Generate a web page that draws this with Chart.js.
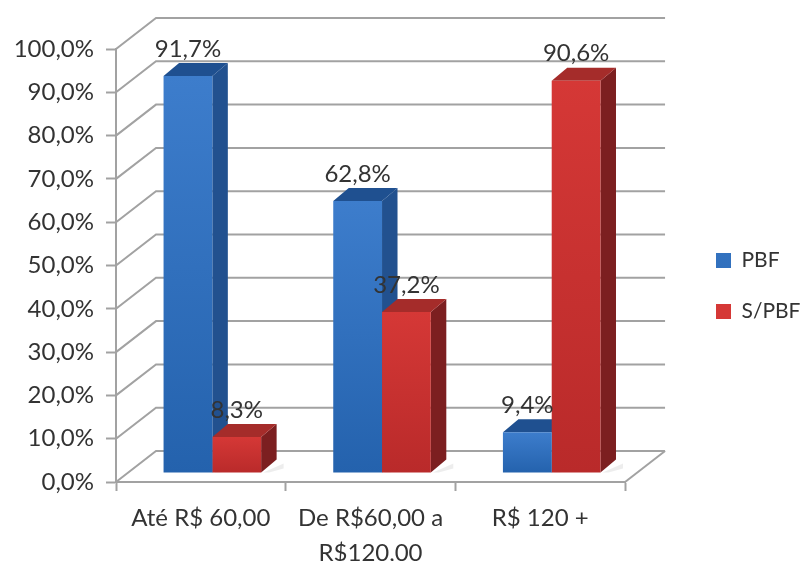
<!DOCTYPE html>
<html>
<head>
<meta charset="utf-8">
<style>
  html, body { margin: 0; padding: 0; background: #fff; }
  #chart { display: block; }
</style>
<script src="https://cdn.jsdelivr.net/npm/chart.js@4/dist/chart.umd.min.js"></script>
</head>
<body>
<canvas id="chart" width="801" height="561"></canvas>
<script>
const categories = ['Até R$ 60,00', ['De R$60,00 a', 'R$120,00'], 'R$ 120 +'];
const seriesPBF = [91.7, 62.8, 9.4];
const seriesSemPBF = [8.3, 37.2, 90.6];
const yTickLabels = ['0,0%', '10,0%', '20,0%', '30,0%', '40,0%', '50,0%', '60,0%', '70,0%', '80,0%', '90,0%', '100,0%'];

const FONT = 'Lato, Carlito, "Open Sans", sans-serif';
const TEXT = '#333333';
const LINE = '#a2a2a2';

// Depth of the floor, how far the bars sit into it, and the depth of a bar
const wall = { dx: 40, dy: -31 };
const barShift = { dx: 11.5, dy: -9 };
const barDepth = { dx: 15.5, dy: -13 };

const palette = [
    { solid: '#2b6cb9', top: '#3d7dcc', bottom: '#2462ad', side: '#22518f', lid: '#1f5090' },
    { solid: '#b92c30', top: '#d53836', bottom: '#b92a2a', side: '#7c1f20', lid: '#a52c2a' }
];

function barFill(ctx, i) {
    const colors = palette[i];
    if (ctx.type !== 'data') return colors.solid;
    const y = ctx.chart.scales.y;
    const y0 = y.getPixelForValue(ctx.raw);
    const y1 = y.getPixelForValue(0);
    // scale has no pixels yet on the very first resolve
    if (!isFinite(y0) || !isFinite(y1)) return colors.solid;
    const g = ctx.chart.ctx.createLinearGradient(0, y0, 0, y1);
    g.addColorStop(0, colors.top);
    g.addColorStop(1, colors.bottom);
    return g;
}

function quad(c, pts, fill) {
    c.beginPath();
    pts.forEach((p, i) => i ? c.lineTo(p[0], p[1]) : c.moveTo(p[0], p[1]));
    c.closePath();
    c.fillStyle = fill;
    c.fill();
}

const scene3d = {
    id: 'scene3d',
    afterLayout(chart) {
        // Legend sits at the far right, away from the plot
        const legend = chart.legend;
        legend.left = 686;
        legend.right = 801;
        legend.top = 11;
    },
    beforeDatasetsDraw(chart) {
        const c = chart.ctx;
        const { left, right, bottom } = chart.chartArea;
        const y = chart.scales.y;

        // back wall lines plus the diagonals running along the left wall
        c.save();
        c.strokeStyle = LINE;
        c.lineWidth = 2;
        y.ticks.forEach(t => {
            const py = y.getPixelForValue(t.value);
            c.beginPath();
            c.moveTo(left, py);
            c.lineTo(left + wall.dx, py + wall.dy);
            c.lineTo(right + wall.dx, py + wall.dy);
            c.stroke();
        });
        c.beginPath();
        c.moveTo(right, bottom);
        c.lineTo(right + wall.dx, bottom + wall.dy);
        c.stroke();
        c.restore();

        // shifted onto the floor; side and lid first so the fronts cover them
        c.save();
        c.translate(barShift.dx, barShift.dy);
        chart.data.datasets.forEach((ds, i) => {
            chart.getDatasetMeta(i).data.forEach(bar => {
                const x0 = bar.x - bar.width / 2;
                const x1 = bar.x + bar.width / 2;
                const d = barDepth;
                // soft shadow on the floor beside the bar
                quad(c, [[x1 + 2, bar.base], [x1 + d.dx + 7, bar.base + d.dy + 4], [x1 + d.dx + 7, bar.base + d.dy + 9], [x1 + 8, bar.base]], 'rgba(0,0,0,0.07)');
                quad(c, [[x1, bar.y], [x1 + d.dx, bar.y + d.dy], [x1 + d.dx, bar.base + d.dy], [x1, bar.base]], palette[i].side);
                quad(c, [[x0, bar.y], [x0 + d.dx, bar.y + d.dy], [x1 + d.dx, bar.y + d.dy], [x1, bar.y]], palette[i].lid);
            });
        });
    },
    afterDatasetsDraw(chart) {
        const c = chart.ctx;
        c.restore();

        // value labels go over everything
        c.save();
        c.font = '24px ' + FONT;
        c.fillStyle = '#333333';
        c.textAlign = 'center';
        c.textBaseline = 'middle';
        chart.data.datasets.forEach((ds, i) => {
            chart.getDatasetMeta(i).data.forEach((bar, j) => {
                const text = ds.data[j].toFixed(1).replace('.', ',') + '%';
                c.fillText(text, bar.x + barShift.dx, bar.y + barShift.dy - 27);
            });
        });
        c.restore();
    }
};

new Chart(document.getElementById('chart'), {
    type: 'bar',
    data: {
        labels: categories,
        datasets: [
            { label: 'PBF', data: seriesPBF, backgroundColor: ctx => barFill(ctx, 0) },
            { label: 'S/PBF', data: seriesSemPBF, backgroundColor: ctx => barFill(ctx, 1) }
        ]
    },
    options: {
        responsive: false,
        animation: false,
        layout: { padding: { top: 49, right: 51.5, left: 0, bottom: 0 } },
        datasets: { bar: { barPercentage: 1, categoryPercentage: 0.575, borderWidth: 0, clip: false } },
        scales: {
            x: {
                afterFit: s => { s.height = 79; },
                border: { color: LINE, width: 2 },
                grid: { drawOnChartArea: false, tickLength: 9, tickColor: LINE, tickWidth: 2 },
                ticks: {
                    color: TEXT,
                    maxRotation: 0,
                    autoSkip: false,
                    padding: 10,
                    font: { family: FONT, size: 24, lineHeight: 1.45 }
                }
            },
            y: {
                min: 0,
                max: 100,
                afterFit: s => { s.width = 116; },
                border: { color: LINE, width: 2 },
                grid: { drawOnChartArea: false, tickLength: 10, tickColor: LINE, tickWidth: 2 },
                ticks: {
                    stepSize: 10,
                    color: TEXT,
                    padding: 12,
                    font: { family: FONT, size: 24 },
                    callback: (v, i) => yTickLabels[i]
                }
            }
        },
        plugins: {
            tooltip: { enabled: false },
            legend: {
                position: 'right',
                labels: {
                    boxWidth: 15,
                    boxHeight: 15,
                    padding: 30,
                    color: TEXT,
                    font: { family: FONT, size: 21 }
                }
            }
        }
    },
    plugins: [scene3d]
});
</script>
</body>
</html>
